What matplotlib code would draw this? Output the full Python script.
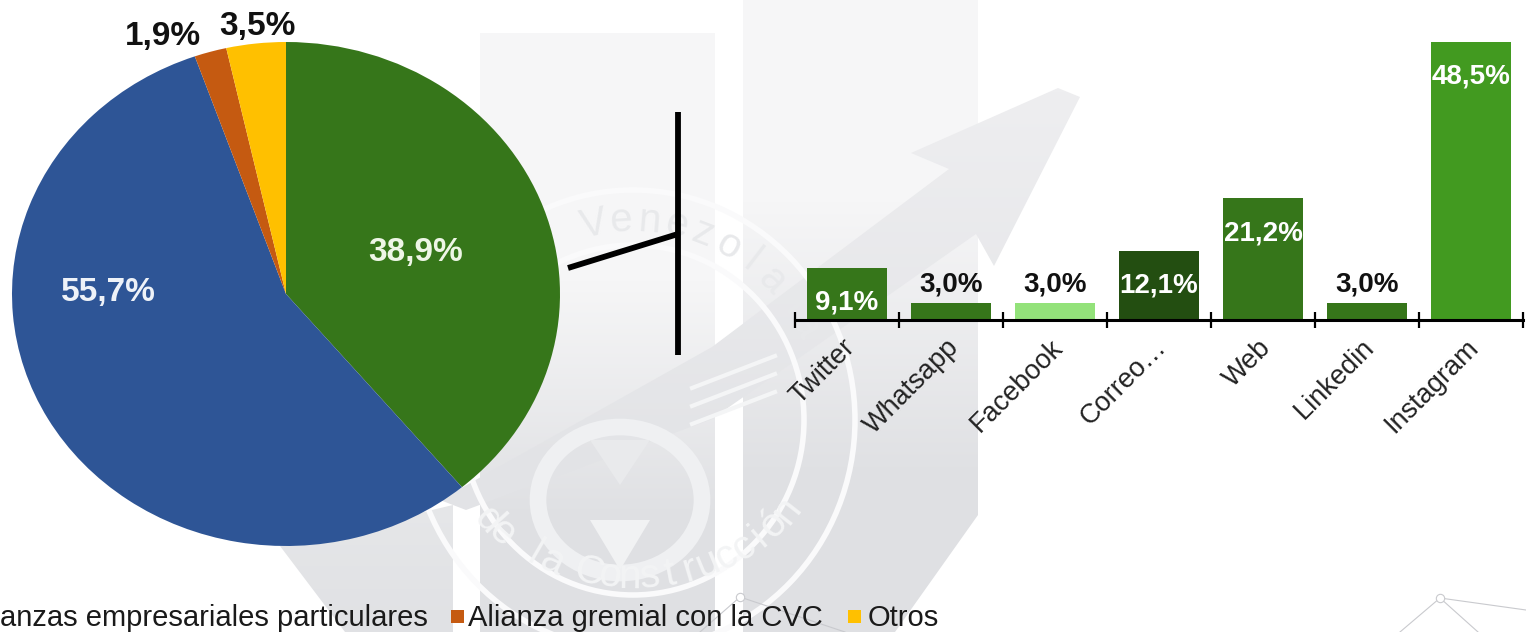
import numpy as np
from matplotlib import pyplot as plt
from matplotlib.colors import LinearSegmentedColormap
from matplotlib.patches import Ellipse, Polygon, Rectangle
from matplotlib.transforms import ScaledTranslation

W = 1526
H = 632

# pie data
pieValues = [38.9, 55.7, 1.9, 3.5]
pieColors = ['#36761a', '#2e5596', '#c55a11', '#ffc000']

# bar data
barNames = ['Twitter', 'Whatsapp', 'Facebook', 'Correo…', 'Web', 'Linkedin', 'Instagram']
barValues = [9.1, 3.0, 3.0, 12.1, 21.2, 3.0, 48.5]
barColors = ['#36761a', '#36761a', '#93e27a', '#234e11', '#36761a', '#36761a', '#429a20']

legendNames = ['anzas empresariales particulares', 'Alianza gremial con la CVC', 'Otros']

plt.rcParams['font.family'] = ['Liberation Sans', 'DejaVu Sans']


def pct(v):
    return f'{v:.1f}%'.replace('.', ',')


#axes placed using picture pixels, y going down
def pixelAxes(x0, y0, x1, y1, zorder):
    a = fig.add_axes([x0 / W, 1 - y1 / H, (x1 - x0) / W, (y1 - y0) / H], zorder=zorder)
    a.patch.set_alpha(0)
    return a


#fills a polygon with a vertical fade between y0 and y1
def gradientShape(pts, top, bottom, y0, y1):
    cmap = LinearSegmentedColormap.from_list('g', [top, bottom])
    ramp = np.clip((np.arange(H) - y0) / (y1 - y0), 0, 1).reshape(-1, 1)
    im = bg.imshow(ramp, cmap=cmap, aspect='auto', extent=(0, W, H, 0), zorder=1, vmin=0, vmax=1)
    poly = Polygon(pts, closed=True, transform=bg.transData, fc='none', ec='none')
    bg.add_patch(poly)
    im.set_clip_path(poly)


#places letters one by one around the seal
def arcText(s, start, end, color, cy, ry, flip=False):
    angles = np.linspace(start, end, len(s))
    for ch, a in zip(s, angles):
        x = 633 + 195 * np.cos(np.radians(a))
        y = cy - ry * np.sin(np.radians(a))
        rot = a + 90 if flip else a - 90
        bg.text(x, y, ch, fontsize=29, color=color, rotation=rot,
                ha='center', va='center', rotation_mode='anchor', zorder=4)


fig = plt.figure(figsize=(W / 100, H / 100), dpi=100, facecolor='white')

#watermark behind the charts
bg = pixelAxes(0, 0, W, H, 0)
bg.axis('off')
gradientShape([(480, 33), (715, 33), (715, 632), (480, 632)], '#f6f6f7', '#dfe0e3', 280, 520)
gradientShape([(743, 0), (978, 0), (978, 515), (895, 632), (743, 632)], '#f6f6f7', '#dfe0e3', 200, 480)
gradientShape([(280, 546), (453, 505), (453, 632), (345, 632)], '#e6e7e9', '#e0e1e4', 500, 632)
gradientShape([(911, 153), (1058, 88), (1080, 97), (994, 266), (976, 234), (712, 419),
               (466, 510), (440, 500), (712, 347), (949, 169)],
              '#eeeef0', '#e2e3e6', 90, 480)
for y0 in [372, 390, 408]:
    bg.plot([692, 775], [y0 + 16, y0 - 16], color='#f4f5f6', lw=3, zorder=3)
bg.add_patch(Ellipse((633, 420), 444, 460, fc='none', ec='#fafafb', lw=4, zorder=3))
bg.add_patch(Ellipse((633, 420), 342, 350, fc='none', ec='#fafafb', lw=4, zorder=3))
bg.add_patch(Ellipse((620, 500), 164, 146, fc='none', ec='#eff0f2', lw=12, zorder=3))
bg.add_patch(Polygon([(590, 520), (650, 520), (620, 570)], fc='#f1f2f3', zorder=3))
bg.add_patch(Polygon([(590, 440), (650, 440), (620, 485)], fc='#e9eaec', zorder=3))
arcText('a Venezolana', 118, 28, '#e8e9eb', 420, 200)
arcText('de la Construcción', 222, 322, '#f3f4f5', 405, 172, flip=True)
bg.plot([1440, 1526], [598, 610], color='#c9cace', lw=0.8, zorder=3)
bg.plot([1440, 1400], [598, 632], color='#c9cace', lw=0.8, zorder=3)
bg.plot([1440, 1478], [598, 632], color='#c9cace', lw=0.8, zorder=3)
bg.plot([740, 700], [597, 632], color='#c9cace', lw=0.8, zorder=3)
bg.plot([740, 845], [597, 632], color='#c9cace', lw=0.8, zorder=3)
bg.plot([1440, 740], [598, 597], ls='none', marker='o', ms=6, mfc='white', mec='#c9cace', mew=0.8, zorder=3)
bg.set_xlim(0, W)
bg.set_ylim(H, 0)

#pie is stretched sideways in the original, so aspect stays auto
axPie = pixelAxes(12, 42, 560, 546, 1)
axPie.pie(pieValues, colors=pieColors, startangle=90, counterclock=False, radius=1)
axPie.set_aspect('auto')
axPie.set_xlim(-1, 1)
axPie.set_ylim(-1, 1)

#bars
axBar = pixelAxes(795, 42, 1523, 320, 1)
xPos = np.arange(len(barValues))
axBar.bar(xPos, barValues, width=0.77, color=barColors)
axBar.set_xlim(-0.5, 6.5)
axBar.set_ylim(0, 48.5)
axBar.set_yticks([])
for side in ['top', 'left', 'right']:
    axBar.spines[side].set_visible(False)
axBar.spines['bottom'].set_linewidth(2.2)
axBar.set_xticks(np.append(xPos - 0.5, 6.5))
axBar.set_xticklabels([])
axBar.tick_params(axis='x', which='major', direction='inout', length=11.5, width=1.6)
axBar.set_xticks(xPos, minor=True)
axBar.set_xticklabels(barNames, minor=True, rotation=45, ha='right', rotation_mode='anchor',
                      fontsize=19.5, color='#222222')
axBar.tick_params(axis='x', which='minor', length=0, pad=10.5)
shift = ScaledTranslation(-4 / 72, 0, fig.dpi_scale_trans)
for lab in axBar.get_xticklabels(minor=True):
    lab.set_transform(lab.get_transform() + shift)
for i, v in enumerate(barValues):
    #tall bars carry the label inside, short ones on top
    inside = v > 5
    axBar.annotate(pct(v), (xPos[i], v), xytext=(0, -25 if inside else 13),
                   textcoords='offset points', ha='center', va='center', fontsize=20,
                   fontweight='bold', color='white' if inside else '#111111',
                   annotation_clip=False)

#everything on top: pie labels, connector, legend
top = pixelAxes(0, 0, W, H, 2)
top.axis('off')
top.set_xlim(0, W)
top.set_ylim(H, 0)
pieLabelPos = [(416, 252), (108, 293), (163, 37), (257, 26)]
pieLabelColor = ['#eef6e6', '#eef2f8', '#111111', '#111111']
for v, p, c in zip(pieValues, pieLabelPos, pieLabelColor):
    top.text(p[0], p[1], pct(v), fontsize=24, fontweight='bold', color=c, ha='center', va='center')
top.plot([678, 678], [112, 355], color='black', lw=4.2, solid_capstyle='butt')
top.plot([568, 678], [268, 234], color='black', lw=4.2, solid_capstyle='butt')

legendY = 618
top.text(0, legendY, legendNames[0], fontsize=21, color='#1a1a1a', ha='left', va='center')
top.add_patch(Rectangle((451, 610), 13, 13, fc=pieColors[2], ec='none'))
top.text(468, legendY, legendNames[1], fontsize=21, color='#1a1a1a', ha='left', va='center')
top.add_patch(Rectangle((848, 610), 13, 13, fc=pieColors[3], ec='none'))
top.text(868, legendY, legendNames[2], fontsize=21, color='#1a1a1a', ha='left', va='center')

plt.savefig('out.png', dpi=100)
